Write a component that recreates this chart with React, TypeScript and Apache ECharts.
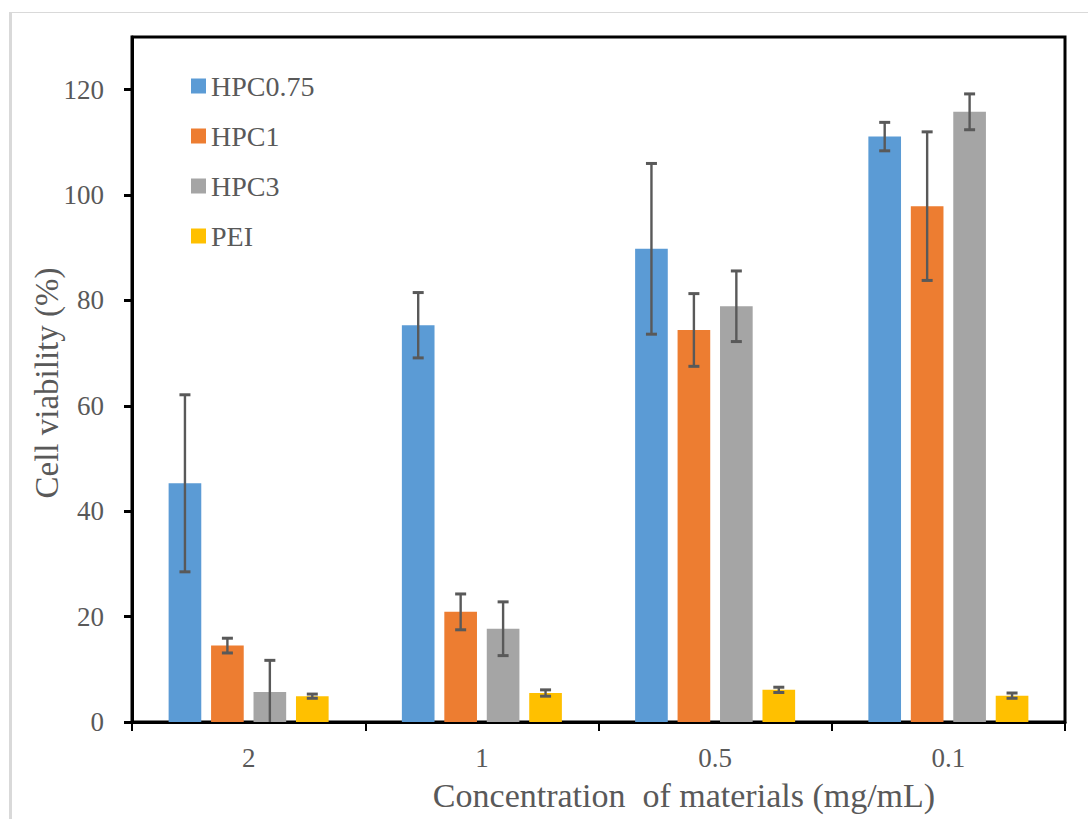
import React, { useEffect, useRef } from "react";
import * as echarts from "echarts";

const categories = ["2", "1", "0.5", "0.1"];
const seriesNames = ["HPC0.75", "HPC1", "HPC3", "PEI"];
const hpc075 = [45.3, 75.3, 89.8, 111.1];
const hpc075Err = [16.8, 6.2, 16.2, 2.7];
const hpc1 = [14.5, 20.9, 74.4, 97.9];
const hpc1Err = [1.4, 3.4, 6.9, 14.1];
const hpc3 = [5.7, 17.7, 78.9, 115.8];
const hpc3Err = [6.0, 5.1, 6.7, 3.4];
const pei = [4.9, 5.5, 6.1, 5.0];
const peiErr = [0.4, 0.6, 0.5, 0.5];
const yTicks = [0, 20, 40, 60, 80, 100, 120];

const colors = ["#5B9BD5", "#ED7D31", "#A5A5A5", "#FFC000"];
const FONT = "Liberation Serif";
const TEXT = "#595959";

export default function App() {
  const ref = useRef<HTMLDivElement>(null);
  useEffect(() => {
    if (!ref.current) return;
    const chart = echarts.init(ref.current, null, { renderer: "svg" });
    const values = [hpc075, hpc1, hpc3, pei];
    const errs = [hpc075Err, hpc1Err, hpc3Err, peiErr];
    const BAR_FRAC = 0.14;
    const GAP_FRAC = 0.3;

    const barSeries = values.map((v, i) => ({
      name: seriesNames[i],
      type: "bar",
      data: v,
      barWidth: BAR_FRAC * 100 + "%",
      barGap: GAP_FRAC * 100 + "%",
      itemStyle: { color: colors[i] },
      z: 2,
    }));

    const errSeries = values.map((v, si) => ({
      name: seriesNames[si] + " err",
      type: "custom",
      clip: true,
      z: 3,
      data: v.map((val, ci) => [ci, val, errs[si][ci]]),
      renderItem: (params: any, api: any) => {
        const ci = api.value(0);
        const val = api.value(1);
        const e = api.value(2);
        const band = api.size([1, 0])[0];
        const w = band * BAR_FRAC;
        const g = w * GAP_FRAC;
        const off = (si - 1.5) * (w + g);
        const top = api.coord([ci, val + e]);
        const bot = api.coord([ci, val - e]);
        const x = top[0] + off;
        const cap = 5.5;
        const style = { stroke: TEXT, lineWidth: 2.4 };
        const capStyle = { stroke: TEXT, lineWidth: 3 };
        return {
          type: "group",
          children: [
            { type: "line", shape: { x1: x, y1: top[1], x2: x, y2: bot[1] }, style },
            { type: "line", shape: { x1: x - cap, y1: top[1], x2: x + cap, y2: top[1] }, style: capStyle },
            { type: "line", shape: { x1: x - cap, y1: bot[1], x2: x + cap, y2: bot[1] }, style: capStyle },
          ],
        };
      },
    }));

    chart.setOption({
      animation: false,
      backgroundColor: "#ffffff",
      color: colors,
      textStyle: { fontFamily: FONT },
      grid: {
        left: 132,
        right: 23,
        top: 37,
        bottom: 97,
        show: true,
        borderColor: "#000",
        borderWidth: 3,
        backgroundColor: "transparent",
      },
      legend: {
        data: seriesNames,
        orient: "vertical",
        left: 186,
        top: 66,
        itemWidth: 15,
        itemHeight: 15,
        itemGap: 20,
        icon: "rect",
        textStyle: { color: TEXT, fontFamily: FONT, fontSize: 28, lineHeight: 30 },
      },
      xAxis: {
        type: "category",
        data: categories,
        axisLine: { lineStyle: { color: "#000", width: 3 } },
        axisTick: { show: true, alignWithLabel: false, length: 9, lineStyle: { color: "#000", width: 2 } },
        axisLabel: { color: TEXT, fontFamily: FONT, fontSize: 27, margin: 22 },
        splitLine: { show: false },
      },
      yAxis: {
        type: "value",
        min: 0,
        max: 130,
        interval: 20,
        axisLine: { show: true, lineStyle: { color: "#000", width: 3 } },
        axisTick: { show: true, length: 8, customValues: yTicks, lineStyle: { color: "#000", width: 3 } },
        axisLabel: { color: TEXT, fontFamily: FONT, fontSize: 27, margin: 28, customValues: yTicks },
        splitLine: { show: false },
      },
      graphic: [
        { type: "rect", left: 9, top: 12, shape: { width: 3, height: 807 }, style: { fill: "#d9d9d9" }, silent: true },
        { type: "rect", left: 9, top: 12, shape: { width: 1079, height: 1 }, style: { fill: "#d9d9d9" }, silent: true },
        {
          type: "text",
          x: 47,
          y: 383,
          rotation: Math.PI / 2,
          style: {
            text: "Cell viability (%)",
            font: "33px 'Liberation Serif', serif",
            fontSize: 33,
            fontFamily: FONT,
            fill: TEXT,
            align: "center",
            verticalAlign: "middle",
          },
        },
        {
          type: "text",
          x: 684,
          y: 795,
          style: {
            text: "Concentration  of materials (mg/mL)",
            font: "34px 'Liberation Serif', serif",
            fontSize: 34,
            fontFamily: FONT,
            fill: TEXT,
            align: "center",
            verticalAlign: "middle",
          },
        },
      ],
      series: [...barSeries, ...errSeries],
    });
    return () => chart.dispose();
  }, []);

  return (
    <div
      ref={ref}
      style={{ position: "fixed", left: 0, top: 0, width: 1088, height: 819, background: "#fff" }}
    />
  );
}
